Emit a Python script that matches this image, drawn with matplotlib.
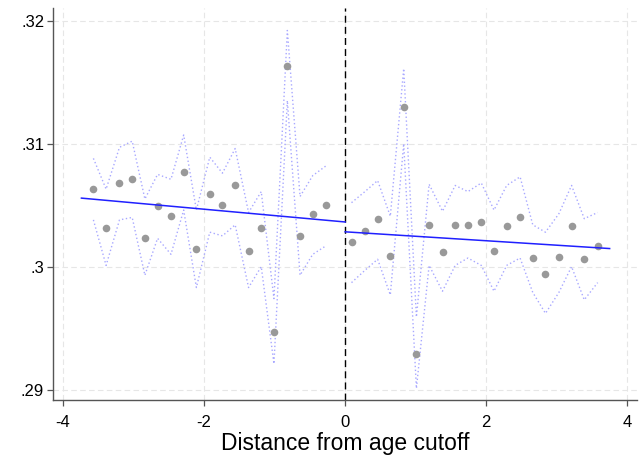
import matplotlib
matplotlib.use("Agg")
import matplotlib.pyplot as plt

# binned means below / above the cutoff
left_x = [-3.57, -3.39, -3.20, -3.02, -2.84, -2.66, -2.47, -2.29, -2.11, -1.92,
          -1.74, -1.56, -1.37, -1.19, -1.01, -0.82, -0.64, -0.46, -0.27]
left_y = [.3063, .3031, .3068, .3071, .3023, .3049, .3041, .3077, .3014, .3059,
          .3050, .3066, .3013, .3031, .2947, .3163, .3025, .3043, .3050]
left_hi = [.3088, .3063, .3097, .3102, .3055, .3075, .3071, .3107, .3046, .3089,
           .3076, .3096, .3044, .3061, .2974, .3192, .3057, .3074, .3082]
left_lo = [.3038, .3001, .3038, .3040, .2993, .3023, .3010, .3046, .2983, .3028,
           .3025, .3034, .2983, .3000, .2921, .3135, .2993, .3010, .3017]

right_x = [0.09, 0.28, 0.46, 0.64, 0.83, 1.01, 1.19, 1.38, 1.56, 1.74,
           1.93, 2.11, 2.29, 2.48, 2.66, 2.84, 3.03, 3.21, 3.39, 3.58]
right_y = [.3020, .3029, .3039, .3009, .3130, .2929, .3034, .3012, .3034, .3034,
           .3036, .3013, .3033, .3040, .3007, .2994, .3008, .3033, .3006, .3017]
right_hi = [.3052, .3061, .3070, .3041, .3161, .2959, .3067, .3045, .3066, .3061,
            .3068, .3046, .3066, .3073, .3034, .3028, .3043, .3066, .3039, .3044]
right_lo = [.2987, .2997, .3006, .2977, .3100, .2901, .3001, .2980, .3001, .3007,
            .3001, .2980, .3001, .3007, .2979, .2962, .2979, .3000, .2973, .2987]

# linear fits on each side
fit_left_x = [-3.74, 0.0]
fit_left_y = [.30557, .30363]
fit_right_x = [0.0, 3.75]
fit_right_y = [.30283, .30147]

xticks = [-4, -2, 0, 2, 4]
yticks = [.29, .30, .31, .32]
ylabels = [".29", ".3", ".31", ".32"]

plt.rcParams['font.family'] = ['Liberation Sans', 'DejaVu Sans']

fig = plt.figure(figsize=(6.41, 4.62), dpi=100)
ax = fig.add_axes([0.083, 0.134, 0.911, 0.848])

band = dict(color='#a8a8ff', lw=1.0, ls=(0, (1, 1.8)))
ax.plot(left_x, left_hi, **band)
ax.plot(left_x, left_lo, **band)
ax.plot(right_x, right_hi, **band)
ax.plot(right_x, right_lo, **band)

ax.scatter(left_x, left_y, s=30, color='#999999', zorder=3, linewidths=0)
ax.scatter(right_x, right_y, s=30, color='#999999', zorder=3, linewidths=0)

ax.plot(fit_left_x, fit_left_y, color='#2020ff', lw=1.1, zorder=4)
ax.plot(fit_right_x, fit_right_y, color='#2020ff', lw=1.1, zorder=4)

ax.axvline(0, color='black', lw=1.0, ls=(0, (5, 3)), zorder=2)

ax.set_xlim(-4.14, 4.14)
ax.set_ylim(.28915, .321)
ax.set_xticks(xticks)
ax.set_xticklabels([str(t) for t in xticks])
ax.set_yticks(yticks)
ax.set_yticklabels(ylabels)
ax.grid(True, color='#e6e6e6', ls=(0, (5, 3)), lw=0.8)
ax.set_axisbelow(True)

for side in ['top', 'right']:
    ax.spines[side].set_visible(False)
for side in ['left', 'bottom']:
    ax.spines[side].set_color('#555555')
    ax.spines[side].set_linewidth(1.0)
ax.tick_params(direction='out', length=4.5, width=0.9, color='#555555',
               labelsize=12)
ax.tick_params(axis='x', pad=6)
ax.tick_params(axis='y', pad=2)

ax.set_xlabel("Distance from age cutoff", fontsize=16.5, labelpad=2)

fig.savefig("out.png", dpi=100, facecolor='white')
